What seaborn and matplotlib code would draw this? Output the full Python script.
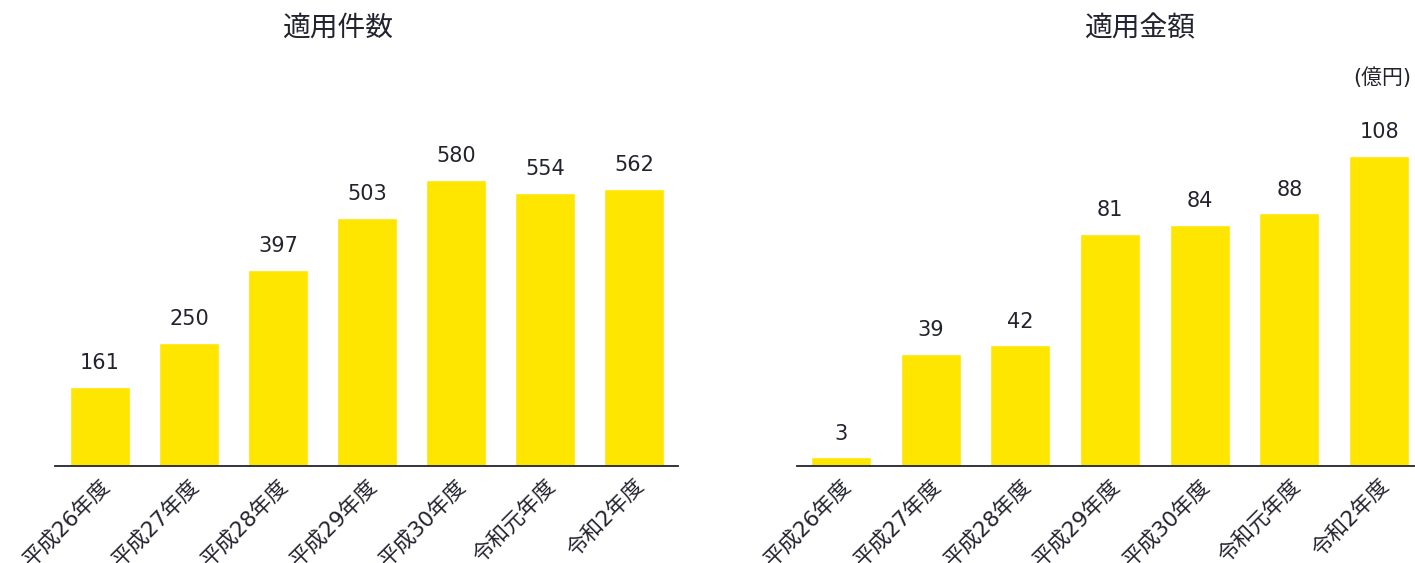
import matplotlib
matplotlib.use("Agg")
import matplotlib.pyplot as plt
import seaborn as sns
import pandas as pd

categories = ["平成26年度", "平成27年度", "平成28年度", "平成29年度", "平成30年度", "令和元年度", "令和2年度"]
counts = [161, 250, 397, 503, 580, 554, 562]
amounts = [3, 39, 42, 81, 84, 88, 108]
title_left = "適用件数"
title_right = "適用金額"
unit_right = "(億円)"

sns.set_theme(style="white")
FAM = ["DejaVu Sans", "Noto Sans CJK JP"]
plt.rcParams["font.family"] = FAM

TEXT = "#23232F"
BAR = "#FFE600"
W, H = 1415, 563
fig = plt.figure(figsize=(W / 100, H / 100), dpi=100)

base = 466
top = 100
def ax_rect(x0, x1):
    return [x0 / W, (H - base) / H, (x1 - x0) / W, (base - top) / H]

axL = fig.add_axes(ax_rect(55, 678))
axR = fig.add_axes(ax_rect(797, 1415))

configs = [
    (axL, counts, (base - top) / (286 / 580), (-0.506, 6.494)),
    (axR, amounts, (base - top) / (310 / 108), (-0.49, 6.40)),
]
for ax, vals, ymax, xlim in configs:
    df = pd.DataFrame({"cat": categories, "val": vals})
    sns.barplot(data=df, x="cat", y="val", color=BAR, saturation=1, width=0.67, ax=ax)
    ax.set_ylim(0, ymax)
    ax.set_xlim(*xlim)
    ax.bar_label(ax.containers[0], labels=[str(v) for v in vals], padding=10,
                 fontsize=15, color=TEXT, family=FAM)
    ax.set_xlabel("")
    ax.set_ylabel("")
    ax.set_yticks([])
    for s in ["top", "right", "left"]:
        ax.spines[s].set_visible(False)
    ax.spines["bottom"].set_color(TEXT)
    ax.spines["bottom"].set_linewidth(1.3)
    ax.tick_params(axis="x", length=0, pad=7)
    ax.set_xticks(range(len(categories)))
    ax.set_xticklabels(categories, rotation=45, ha="right", rotation_mode="anchor",
                       fontsize=15.5, color=TEXT, family=FAM)

fig.text(338 / W, 1 - 28 / H, title_left, ha="center", va="center", fontsize=20, color=TEXT, family=FAM)
fig.text(1140 / W, 1 - 28 / H, title_right, ha="center", va="center", fontsize=20, color=TEXT, family=FAM)
fig.text(1411 / W, 1 - 78 / H, unit_right, ha="right", va="center", fontsize=15, color=TEXT, family=FAM)

fig.savefig("out.png", dpi=100)
